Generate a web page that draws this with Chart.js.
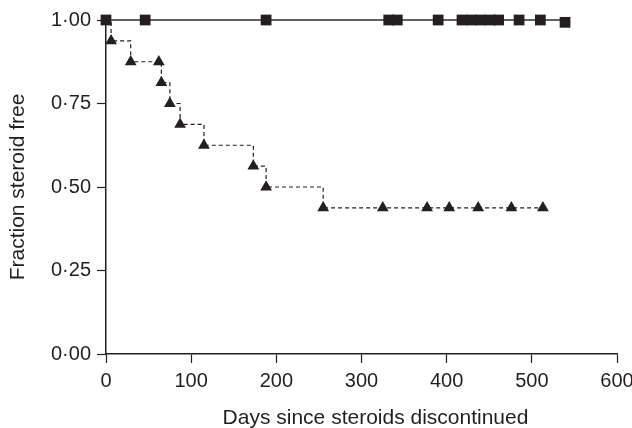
<!DOCTYPE html>
<html>
<head>
<meta charset="utf-8">
<script src="https://cdn.jsdelivr.net/npm/chart.js@4.4.1/dist/chart.umd.min.js"></script>
<style>
  html, body { margin: 0; padding: 0; background: #fff; overflow: hidden; }
  #wrap { width: 660px; height: 428px; }
</style>
</head>
<body>
<div id="wrap"><canvas id="myChart" width="660" height="428"></canvas></div>
<script>
// Kaplan-Meier style chart

// continued group (squares, solid line)
const squareDays = [0, 46, 188, 332, 342, 390, 418, 429, 440, 451, 461, 485, 510, 539];
const squareFrac = [1, 1, 1, 1, 1, 1, 1, 1, 1, 1, 1, 1, 1, 0.993];

// discontinued group (triangles, dashed step line)
const triDays = [6, 29, 62, 65, 75, 87, 115, 173, 188, 255, 325, 377, 403, 437, 476, 513];
const triFrac = [0.9375, 0.875, 0.875, 0.8125, 0.75, 0.6875, 0.625, 0.5625, 0.5,
                 0.4375, 0.4375, 0.4375, 0.4375, 0.4375, 0.4375, 0.4375];

const xTicks = [0, 100, 200, 300, 400, 500, 600];
const yTicks = [0, 0.25, 0.5, 0.75, 1];
const yTickLabels = ['0·00', '0·25', '0·50', '0·75', '1·00'];

const xTitle = 'Days since steroids discontinued';
const yTitle = 'Fraction steroid free';

const ink = '#231f20';
const fontFamily = '"Liberation Sans", Arial, Helvetica, sans-serif';

const toPoints = (xs, ys) => xs.map((x, i) => ({x: x, y: ys[i]}));

const stepDays = [0].concat(triDays);
const stepFrac = [1].concat(triFrac);

// x title sits a bit right of the axis middle in the original figure
const xTitlePlugin = {
    id: 'xTitlePlugin',
    afterDraw(chart) {
        const ctx = chart.ctx;
        const area = chart.chartArea;
        ctx.save();
        ctx.fillStyle = ink;
        ctx.font = '21px ' + fontFamily;
        ctx.textAlign = 'center';
        ctx.textBaseline = 'alphabetic';
        ctx.fillText(xTitle, (area.left + area.right) / 2 + 14, chart.height - 4);
        ctx.restore();
    }
};

const data = {
    datasets: [
        {
            label: 'Triangles',
            data: toPoints(triDays, triFrac),
            showLine: false,
            pointStyle: 'triangle',
            pointRadius: 6.8,
            pointBackgroundColor: ink,
            pointBorderColor: ink,
            pointBorderWidth: 0,
            clip: false
        },
        {
            label: 'Squares',
            data: toPoints(squareDays, squareFrac),
            showLine: true,
            stepped: 'before',
            borderColor: '#616161',
            borderWidth: 2,
            pointStyle: 'rect',
            pointRadius: 7.6,
            pointBackgroundColor: ink,
            pointBorderColor: ink,
            pointBorderWidth: 0,
            clip: false
        },
        {
            label: 'Step',
            data: toPoints(stepDays, stepFrac),
            showLine: true,
            stepped: 'before',
            borderColor: ink,
            borderWidth: 1.2,
            borderDash: [4, 3],
            pointRadius: 0,
            clip: false
        }
    ]
};

const config = {
    type: 'scatter',
    data: data,
    plugins: [xTitlePlugin],
    options: {
        responsive: false,
        animation: false,
        layout: {
            padding: {top: 20, right: 43, bottom: 0, left: 0}
        },
        plugins: {
            legend: {display: false},
            tooltip: {enabled: false}
        },
        scales: {
            x: {
                type: 'linear',
                min: 0,
                max: 600,
                afterBuildTicks: function (axis) {
                    axis.ticks = xTicks.map(v => ({value: v}));
                },
                afterFit: function (axis) { axis.height = 74; },
                grid: {drawOnChartArea: false, drawTicks: true, tickLength: 9, color: ink, tickWidth: 1.2},
                border: {display: true, color: ink, width: 1.5},
                ticks: {color: ink, padding: 6, maxRotation: 0, font: {family: fontFamily, size: 20}}
            },
            y: {
                type: 'linear',
                min: 0,
                max: 1,
                afterBuildTicks: function (axis) {
                    axis.ticks = yTicks.map(v => ({value: v}));
                },
                afterFit: function (axis) { axis.width = 106; },
                grid: {drawOnChartArea: false, drawTicks: true, tickLength: 9, color: ink, tickWidth: 1.2},
                border: {display: true, color: ink, width: 1.5},
                ticks: {
                    color: ink,
                    padding: 6,
                    font: {family: fontFamily, size: 20},
                    callback: function (value) {
                        const i = yTicks.indexOf(value);
                        return i >= 0 ? yTickLabels[i] : '';
                    }
                },
                title: {
                    display: true,
                    text: yTitle,
                    color: ink,
                    font: {family: fontFamily, size: 21},
                    padding: {top: 6, bottom: 0}
                }
            }
        }
    }
};

var myChart = new Chart(document.getElementById('myChart'), config);
</script>
</body>
</html>
